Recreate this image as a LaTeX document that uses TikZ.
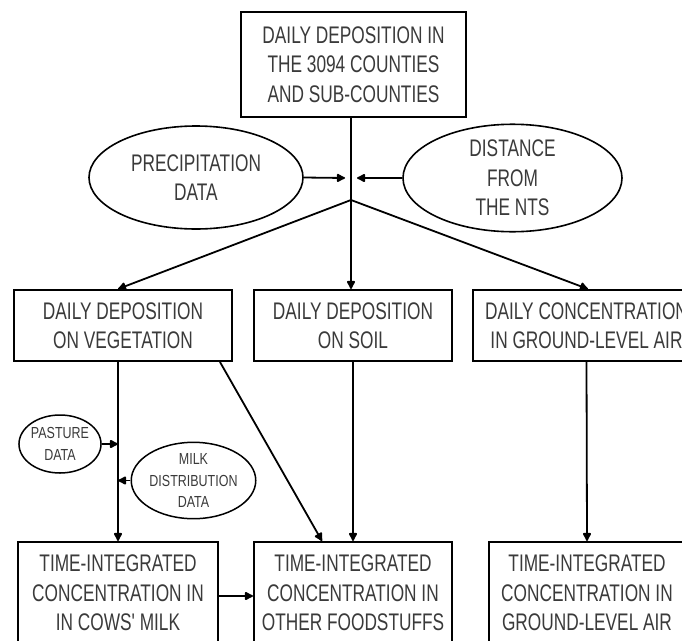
\documentclass[tikz,border=0pt]{standalone}
\usepackage{fontspec}
\usetikzlibrary{shapes.geometric,arrows.meta}
\newfontfamily\bigf[FakeStretch=0.72]{Liberation Sans}
\newfontfamily\smallf[FakeStretch=0.78]{Liberation Sans}
\definecolor{txt}{HTML}{3A3A3A}
\begin{document}
\begin{tikzpicture}[x=1pt,y=-1pt,
  >={Latex[length=10pt,width=10pt,round]},
  box/.style={draw=black,line width=2pt,inner sep=0pt,align=center,text=txt,
    font=\bigf\fontsize{24}{29.5}\selectfont},
  oval/.style={ellipse,draw=black,line width=1.6pt,inner sep=0pt,align=center,text=txt,
    font=\bigf\fontsize{24}{29.5}\selectfont},
  soval/.style={ellipse,draw=black,line width=1.5pt,inner sep=0pt,align=center,text=txt,
    font=\smallf\fontsize{16}{21.5}\selectfont},
  arr/.style={->,line width=1.8pt,draw=black}]
\useasboundingbox (0,0) rectangle (682,640);
\clip (0,0) rectangle (682,640);

\node[box,minimum width=225pt,minimum height=105pt] (top) at (353.5,64.5)
  {DAILY DEPOSITION IN\\THE 3094 COUNTIES\\AND SUB-COUNTIES};

\node[oval,minimum width=214pt,minimum height=103pt] (prec) at (196,177.5)
  {PRECIPITATION\\DATA};
\node[oval,minimum width=219pt,minimum height=104pt] (dist) at (512.5,178)
  {DISTANCE\\FROM\\THE NTS};

\node[box,minimum width=218pt,minimum height=71pt] (veg) at (123,325.5)
  {DAILY DEPOSITION\\ON VEGETATION};
\node[box,minimum width=198pt,minimum height=71pt] (soil) at (353,325.5)
  {DAILY DEPOSITION\\ON SOIL};
\node[box,minimum width=227pt,minimum height=71pt] (air) at (586.5,325.5)
  {DAILY CONCENTRATION\\IN GROUND-LEVEL AIR};

\node[soval,minimum width=76pt,minimum height=58pt] (past) at (60,444)
  {PASTURE\\DATA};
\node[soval,minimum width=103pt,minimum height=75pt] (milkd) at (193.5,480.5)
  {MILK\\DISTRIBUTION\\DATA};

\node[box,minimum width=200pt,minimum height=102pt] (milk) at (118,593)
  {TIME-INTEGRATED\\CONCENTRATION IN\\IN COWS' MILK};
\node[box,minimum width=198pt,minimum height=102pt] (other) at (353,593)
  {TIME-INTEGRATED\\CONCENTRATION IN\\OTHER FOODSTUFFS};
\node[box,minimum width=196pt,minimum height=102pt] (airt) at (587,593)
  {TIME-INTEGRATED\\CONCENTRATION IN\\GROUND-LEVEL AIR};

\coordinate (J) at (351,200);
\coordinate (pl) at (345,178);
\coordinate (pr) at (357,178);

\draw[arr] (J |- top.south) -- (J |- soil.north);
\draw[arr] (prec.east) -- (pl);
\draw[arr] (dist.west) -- (pr);
\draw[arr] (J) -- ([xshift=-5pt]veg.north);
\draw[arr] (J) -- ([xshift=1.5pt]air.north);

\draw[arr] ([xshift=-5pt]veg.south) -- (milk.north);
\draw[arr] (past.east) -- (past.east -| milk.north);
\draw[arr] (milkd.west) -- (milkd.west -| milk.north);
\draw[arr] ([xshift=97pt]veg.south) -- ([xshift=-31pt]other.north);
\draw[arr] (soil.south) -- (other.north);
\draw[arr] (air.south) -- (airt.north);
\draw[arr] ([yshift=-3pt]milk.east) -- ([yshift=-3pt]other.west);
\end{tikzpicture}
\end{document}
